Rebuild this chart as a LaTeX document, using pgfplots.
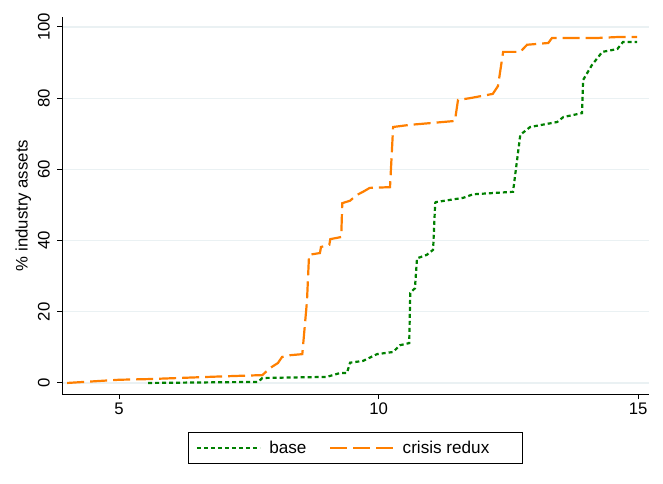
\documentclass[border=0pt]{standalone}
\usepackage{fontspec}
\setmainfont{Liberation Sans}
\usepackage{pgfplots}
\pgfplotsset{compat=1.18}
\definecolor{stgreen}{RGB}{0,128,0}
\definecolor{storange}{RGB}{255,127,0}
\definecolor{gridc}{RGB}{234,241,243}

\begin{document}
\begin{tikzpicture}[font=\fontsize{16.8}{19}\selectfont]
\begin{axis}[
  name=ax, at={(0,0)}, anchor=south west,
  scale only axis, width=587bp, height=377bp,
  xmin=3.9, xmax=15.21, ymin=-3.1, ymax=102.8,
  axis x line*=bottom, axis y line*=left,
  axis line style={line width=1bp, -},
  xtick={5,10,15}, ytick={0,20,40,60,80,100},
  tick align=outside, major tick length=5bp,
  tick style={line width=1bp, black},
  ymajorgrids, grid style={gridc, line width=1.3bp},
  /pgf/number format/assume math mode=true,
  yticklabel style={rotate=90, anchor=south, inner sep=0pt, yshift=7bp},
  xticklabel style={inner sep=0pt, yshift=-4bp},
  ylabel={\% industry assets},
  ylabel style={at={(axis description cs:-0.066,0.5)}, anchor=center},
  legend columns=2,
  legend image code/.code={\draw[#1] (0bp,0bp) -- (63bp,0bp);},
  legend style={at={(0.5,-0.1008)}, anchor=north, draw=black, line width=0.8bp,
    font=\fontsize{17.2}{19}\selectfont,
    inner xsep=7bp, inner ysep=6.5bp,
    /tikz/every odd column/.append style={column sep=6.5bp},
    /tikz/every even column/.append style={column sep=20.5bp}},
]
\addplot[stgreen, line width=2.2bp, dash pattern=on 4bp off 3bp] coordinates {
  (5.56,0) (7.68,0.3) (7.76,1.4) (9.0,1.7) (9.26,2.8) (9.39,2.8)
  (9.45,5.7) (9.70,6.2) (9.97,8.1) (10.28,8.7) (10.41,10.6) (10.59,11.2)
  (10.61,25.3) (10.70,26.6) (10.74,35) (10.93,36) (11.05,37.4) (11.09,50.5)
  (11.1,50.8) (11.63,52) (11.82,53) (12.59,53.7) (12.73,69.7) (12.92,71.9)
  (13.44,73.3) (13.56,74.7) (13.92,75.8) (13.94,85.1) (14.11,89.3)
  (14.31,93) (14.6,93.8) (14.71,95.8) (14.98,95.8)
};
\addlegendentry{base}
\addplot[storange, line width=2.2bp, dash pattern=on 17bp off 6bp] coordinates {
  (4.0,0) (5.0,0.9) (5.6,1.1) (6.9,1.8) (7.52,2.1) (7.76,2.2) (7.91,4.2)
  (8.06,5.6) (8.14,7.3) (8.3,7.8) (8.53,8.1) (8.62,23) (8.66,36)
  (8.87,36.5) (8.89,38.2) (9.05,38.8) (9.07,40.4) (9.28,41) (9.30,50.5)
  (9.45,51.2) (9.58,52.8) (9.70,53.7) (9.83,54.8) (10.22,55) (10.28,71.9)
  (10.6,72.5) (11.0,73) (11.47,73.6) (11.53,79.5) (11.76,80) (12.2,81.2)
  (12.3,83.4) (12.4,93) (12.73,93) (12.86,95) (13.27,95.5) (13.34,96.9)
  (14.2,96.9) (14.65,97.2) (14.98,97.2)
};
\addlegendentry{crisis redux\hspace*{24bp}}
\end{axis}
\pgfresetboundingbox
\path ([xshift=-62bp,yshift=-90bp]ax.south west) rectangle ([xshift=14bp,yshift=17bp]ax.north east);
\end{tikzpicture}
\end{document}
